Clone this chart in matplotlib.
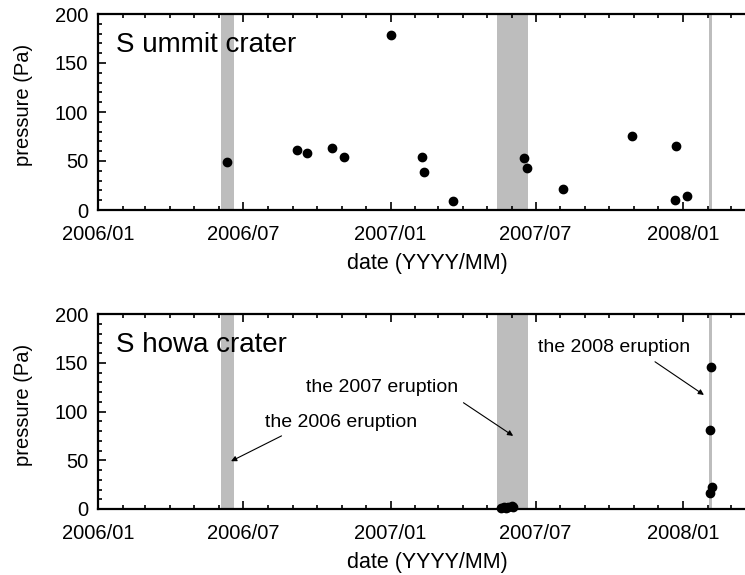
import matplotlib
matplotlib.use("Agg")
import matplotlib.pyplot as plt
import matplotlib.dates as mdates
import numpy as np
import datetime as dt

plt.rcParams['font.family'] = ['Liberation Sans', 'DejaVu Sans']

def d(s):
    return dt.datetime.strptime(s, "%Y/%m/%d")

# summit crater measurements
summit_dates = ["2006/06/11", "2006/09/06", "2006/09/19", "2006/10/20", "2006/11/04",
                "2007/01/02", "2007/02/09", "2007/02/12", "2007/03/20", "2007/06/16",
                "2007/06/20", "2007/08/04", "2007/10/29", "2007/12/23", "2007/12/22",
                "2008/01/06"]
summit_pa = [49, 61, 58, 63, 54, 179, 54, 39, 9, 53, 43, 21, 76, 65, 10, 14]

# showa crater measurements
showa_dates = ["2007/05/19", "2007/05/22", "2007/05/25", "2007/05/28", "2007/06/01",
               "2007/06/03", "2008/02/05", "2008/02/03", "2008/02/06", "2008/02/03"]
showa_pa = [1, 2, 1, 2, 3, 2, 146, 81, 23, 16]

# eruption periods (start, end)
eruptions = [("2006/06/03", "2006/06/20"), ("2007/05/14", "2007/06/21"),
             ("2008/02/02", "2008/02/06")]

# annotations: text, text position, arrow tail, arrow tip
notes = [("the 2006 eruption", ("2006/07/28", 89), ("2006/08/18", 75), ("2006/06/16", 49)),
         ("the 2007 eruption", ("2006/09/17", 125), ("2007/04/02", 109), ("2007/06/03", 75)),
         ("the 2008 eruption", ("2007/07/04", 166), ("2007/11/27", 151), ("2008/01/27", 117))]

fig = plt.figure(figsize=(7.45, 5.75), dpi=100)
W, H = 745.0, 575.0
left = 98 / W
width = (756 - 98) / W
ax1 = fig.add_axes([left, 1 - 210 / H, width, 196 / H])
ax2 = fig.add_axes([left, 1 - 509 / H, width, 195 / H])

panels = [(ax1, summit_dates, summit_pa, "S ummit crater"),
          (ax2, showa_dates, showa_pa, "S howa crater")]

for ax, dates, vals, title in panels:
    for s, e in eruptions:
        ax.axvspan(d(s), d(e), color="#bdbdbd", lw=0, zorder=1)
    ax.scatter([d(x) for x in dates], vals, s=36, color="black", zorder=3,
               clip_on=False)
    ax.set_xlim(d("2006/01/01"), d("2008/04/01"))
    ax.set_ylim(0, 200)
    ax.set_yticks(np.arange(0, 201, 50))
    ax.yaxis.set_minor_locator(matplotlib.ticker.MultipleLocator(10))
    ax.xaxis.set_major_locator(mdates.MonthLocator(bymonth=[1, 7]))
    ax.xaxis.set_minor_locator(mdates.MonthLocator())
    ax.xaxis.set_major_formatter(mdates.DateFormatter("%Y/%m"))
    ax.tick_params(which="both", direction="in", top=True, right=False,
                   labelsize=14.5, width=1.2)
    ax.tick_params(axis="y", pad=7)
    ax.tick_params(axis="x", pad=11)
    ax.tick_params(which="major", length=6)
    ax.tick_params(which="minor", length=3)
    for sp in ax.spines.values():
        sp.set_linewidth(1.6)
    ax.spines["right"].set_visible(False)
    ax.set_ylabel("pressure (Pa)", fontsize=14.5)
    ax.yaxis.set_label_coords(-0.099, 0.536)
    ax.set_xlabel("date (YYYY/MM)", fontsize=15.5, labelpad=6)
    ax.text(0.027, 0.84, title, transform=ax.transAxes, fontsize=20,
            va="center", ha="left", zorder=4)

for txt, tpos, tail, tip in notes:
    ax2.text(d(tpos[0]), tpos[1], txt, fontsize=14, ha="left", va="center")
    ax2.annotate("", xy=(d(tip[0]), tip[1]), xytext=(d(tail[0]), tail[1]),
                 arrowprops=dict(arrowstyle="-|>", color="black", lw=0.8,
                                 mutation_scale=8, shrinkA=0, shrinkB=0))

plt.savefig("out.png", dpi=100)
